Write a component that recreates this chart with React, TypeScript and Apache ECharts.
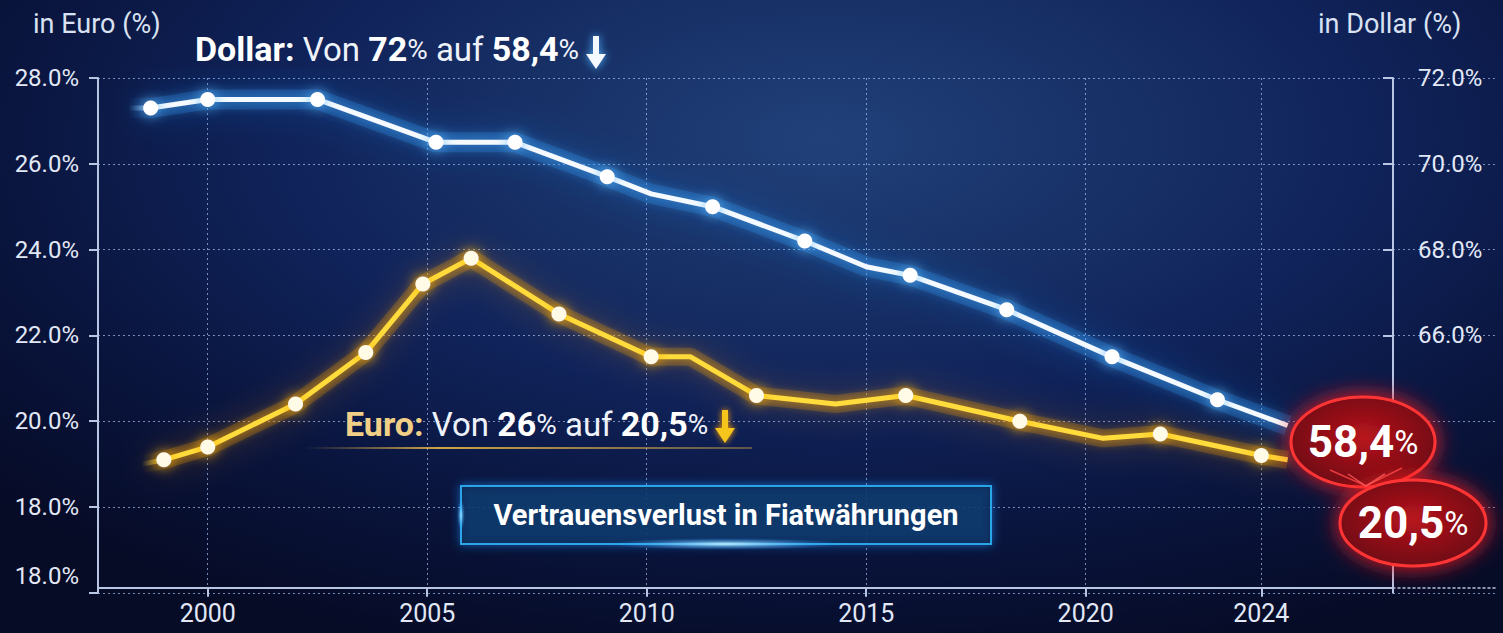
import React, { useEffect, useRef } from "react";
import * as echarts from "echarts";

// ---- data ----
const dollarYears = [1998.2, 1998.7, 2000.0, 2002.5, 2005.2, 2007.0, 2009.1, 2010.1, 2011.5, 2013.6, 2015.0, 2016.0, 2018.2, 2020.6, 2023.0, 2024.6];
const dollarShare = [71.3, 71.3, 71.5, 71.5, 70.5, 70.5, 69.7, 69.3, 69.0, 68.2, 67.6, 67.4, 66.6, 65.5, 64.5, 63.9];
const dollarMarked = [false, true, true, true, true, true, true, false, true, true, false, true, true, true, true, false];

const euroYears = [1998.5, 1999.0, 2000.0, 2002.0, 2003.6, 2004.9, 2006.0, 2008.0, 2010.1, 2011.0, 2012.5, 2014.3, 2015.9, 2018.5, 2020.4, 2021.7, 2024.0, 2024.6];
const euroShare = [19.0, 19.1, 19.4, 20.4, 21.6, 23.2, 23.8, 22.5, 21.5, 21.5, 20.6, 20.4, 20.6, 20.0, 19.6, 19.7, 19.2, 19.1];
const euroMarked = [false, true, true, true, true, true, true, true, true, false, true, false, true, true, false, true, true, false];

const xTickValues = [2000, 2005, 2010, 2015, 2020, 2024];
const leftTicks = [16, 18, 20, 22, 24, 26, 28];
const leftTickLabels = ["18.0%", "18.0%", "20.0%", "22.0%", "24.0%", "26.0%", "28.0%"];
const rightTicks = [66, 68, 70, 72];
const rightTickLabels = ["66.0%", "68.0%", "70.0%", "72.0%"];

const dollarTitle = "{b|Dollar:}{r| Von }{b|72}{p|%}{r| auf }{b|58,4}{p|%}";
const euroTitle = "{e|Euro:}{r| Von }{b|26}{p|%}{r| auf }{b|20,5}{p|%}";
const boxTitle = "Vertrauensverlust in Fiatwährungen";
const dollarBadge = "{b|58,4}{p|%}";
const euroBadge = "{b|20,5}{p|%}";

const FONT = "Roboto, 'Noto Sans', 'DejaVu Sans', sans-serif";
const AXIS = "#b8c5e3";
const LABEL = "#e2e8f6";
const DOTS = { color: "rgba(165,192,240,0.7)", width: 1, type: [2, 3] as number[] };

function points(years: number[], vals: number[], marks: boolean[] | null) {
  return years.map((x, i) => ({
    value: [x, vals[i]],
    symbol: marks && marks[i] ? "circle" : "none",
  }));
}

function fade(color: string, clear: string) {
  return new echarts.graphic.LinearGradient(0, 0, 1, 0, [
    { offset: 0, color: clear },
    { offset: 0.025, color },
    { offset: 1, color },
  ]);
}

export default function App() {
  const ref = useRef<HTMLDivElement>(null);

  useEffect(() => {
    document.body.style.margin = "0";
    if (!ref.current) return;
    const chart = echarts.init(ref.current, null, { renderer: "svg" });

    const richTitle = {
      b: { fontSize: 34, fontWeight: "bold", fill: "#ffffff", fontFamily: FONT },
      e: { fontSize: 34, fontWeight: "bold", fill: "#f2cf86", fontFamily: FONT },
      r: { fontSize: 33, fill: "#eef2fa", fontFamily: FONT },
      p: { fontSize: 28, fill: "#eef2fa", fontFamily: FONT },
    };
    const richBadge = {
      b: { fontSize: 44, fontWeight: "bold", fill: "#ffffff", fontFamily: FONT },
      p: { fontSize: 33, fill: "#ffffff", fontFamily: FONT },
    };
    const badgeFill = () =>
      new echarts.graphic.RadialGradient(0.5, 0.45, 0.6, [
        { offset: 0, color: "#b8151e" },
        { offset: 1, color: "#6a0710" },
      ]);

    const option: any = {
      animation: false,
      backgroundColor: "transparent",
      grid: [
        { left: 98, top: 78, width: 1295, height: 514.8 },
        { left: 1393, top: 78, width: 102, height: 514.8 },
      ],
      xAxis: [
        {
          type: "value",
          gridIndex: 0,
          min: 1997.5,
          max: 2027,
          interval: 2.5,
          offset: -5,
          axisLine: { show: true, onZero: false, lineStyle: { color: AXIS, width: 2 } },
          axisTick: { show: true, customValues: xTickValues, length: 9, lineStyle: { color: AXIS, width: 2 } },
          axisLabel: {
            customValues: xTickValues,
            formatter: (v: number) => String(Math.round(v)),
            color: LABEL,
            fontSize: 25,
            fontFamily: FONT,
            margin: 13,
          },
          splitLine: { show: true, lineStyle: DOTS },
        },
        {
          type: "value",
          gridIndex: 1,
          min: 0,
          max: 1,
          offset: -5,
          axisLine: { show: true, onZero: false, lineStyle: { color: AXIS, width: 1.5, type: [2, 3] } },
          axisTick: { show: false },
          axisLabel: { show: false },
          splitLine: { show: false },
        },
      ],
      yAxis: [
        {
          type: "value",
          gridIndex: 0,
          position: "left",
          min: 16,
          max: 28,
          interval: 2,
          axisLine: { show: true, onZero: false, lineStyle: { color: AXIS, width: 2 } },
          axisTick: { show: true, length: 9, lineStyle: { color: AXIS, width: 2 } },
          axisLabel: {
            formatter: (v: number) => {
              const i = leftTicks.indexOf(Math.round(v));
              if (i < 0) return "";
              return i === 0 ? "{low|" + leftTickLabels[i] + "}" : leftTickLabels[i];
            },
            rich: { low: { fontSize: 24, fontFamily: FONT, color: LABEL, padding: [0, 0, 34, 0] } },
            color: LABEL,
            fontSize: 24,
            fontFamily: FONT,
            margin: 19,
          },
          splitLine: { show: true, lineStyle: DOTS },
        },
        {
          type: "value",
          gridIndex: 0,
          position: "right",
          min: 60,
          max: 72,
          interval: 2,
          axisLine: { show: true, onZero: false, lineStyle: { color: AXIS, width: 2 } },
          axisTick: { show: true, inside: true, customValues: rightTicks, length: 10, lineStyle: { color: AXIS, width: 2 } },
          axisLabel: {
            customValues: rightTicks,
            formatter: (v: number) => {
              const i = rightTicks.indexOf(Math.round(v));
              return i >= 0 ? rightTickLabels[i] : "";
            },
            color: LABEL,
            fontSize: 24,
            fontFamily: FONT,
            margin: 25,
          },
          splitLine: { show: false },
        },
        {
          type: "value",
          gridIndex: 1,
          min: 16,
          max: 28,
          interval: 2,
          axisLine: { show: false },
          axisTick: { show: false },
          axisLabel: { show: false },
          splitLine: { show: true, lineStyle: DOTS },
        },
      ],
      series: [
        {
          name: "Euro glow",
          type: "line",
          xAxisIndex: 0,
          yAxisIndex: 0,
          silent: true,
          symbol: "none",
          data: points(euroYears, euroShare, null),
          lineStyle: {
            width: 18,
            color: fade("rgba(255,160,20,0.2)", "rgba(255,160,20,0)"),
            shadowBlur: 32,
            shadowColor: "rgba(255,140,0,1)",
          },
          z: 2,
        },
        {
          name: "Euro",
          type: "line",
          xAxisIndex: 0,
          yAxisIndex: 0,
          symbolSize: 15,
          data: points(euroYears, euroShare, euroMarked),
          lineStyle: {
            width: 5,
            color: fade("#ffdb3a", "rgba(255,217,58,0)"),
            shadowBlur: 12,
            shadowColor: "rgba(255,170,0,1)",
          },
          itemStyle: { color: "#fffbe6", borderWidth: 0, shadowBlur: 14, shadowColor: "#ffb300" },
          z: 3,
        },
        {
          name: "Dollar glow",
          type: "line",
          xAxisIndex: 0,
          yAxisIndex: 1,
          silent: true,
          symbol: "none",
          data: points(dollarYears, dollarShare, null),
          lineStyle: {
            width: 20,
            color: fade("rgba(40,150,255,0.22)", "rgba(40,150,255,0)"),
            shadowBlur: 34,
            shadowColor: "rgba(30,140,255,1)",
          },
          z: 2,
        },
        {
          name: "Dollar",
          type: "line",
          xAxisIndex: 0,
          yAxisIndex: 1,
          symbolSize: 15,
          data: points(dollarYears, dollarShare, dollarMarked),
          lineStyle: {
            width: 5,
            color: fade("#f4faff", "rgba(120,200,255,0)"),
            shadowBlur: 14,
            shadowColor: "rgba(80,180,255,1)",
          },
          itemStyle: { color: "#ffffff", borderWidth: 0, shadowBlur: 14, shadowColor: "#5cb8ff" },
          z: 3,
        },
      ],
      graphic: [
        { type: "text", x: 33, y: 24, z: 50, style: { text: "in Euro (%)", fontSize: 27, fill: "#d9e2f3", fontFamily: FONT, verticalAlign: "middle" } },
        { type: "text", x: 1318, y: 24, z: 50, style: { text: "in Dollar (%)", fontSize: 27, fill: "#d9e2f3", fontFamily: FONT, verticalAlign: "middle" } },
        {
          type: "text", x: 195, y: 49, z: 50,
          style: { text: dollarTitle, rich: richTitle, verticalAlign: "middle", align: "left" },
        },
        {
          type: "polygon", z: 50,
          shape: { points: [[593, 36], [599, 36], [599, 54], [606, 54], [596, 69], [586, 54], [593, 54]] },
          style: { fill: "#f4f9ff", shadowBlur: 8, shadowColor: "#4fb0ff" },
        },
        {
          type: "line", z: 40,
          shape: { x1: 305, y1: 448, x2: 752, y2: 448 },
          style: {
            stroke: new echarts.graphic.LinearGradient(305, 0, 752, 0, [
              { offset: 0, color: "rgba(240,190,70,0)" },
              { offset: 0.3, color: "rgba(240,190,70,0.85)" },
              { offset: 1, color: "rgba(240,190,70,0.35)" },
            ], true),
            lineWidth: 2,
          },
        },
        {
          type: "text", x: 345, y: 424, z: 50,
          style: { text: euroTitle, rich: richTitle, verticalAlign: "middle", align: "left" },
        },
        {
          type: "polygon", z: 50,
          shape: { points: [[722, 410], [728, 410], [728, 428], [735, 428], [725, 443], [715, 428], [722, 428]] },
          style: { fill: "#f6c51e", shadowBlur: 6, shadowColor: "#ff9f00" },
        },
        {
          type: "rect", z: 40,
          shape: { x: 461, y: 486, width: 530, height: 58 },
          style: { fill: "rgba(7,16,44,0.78)", stroke: "#2aa6e8", lineWidth: 2, shadowBlur: 10, shadowColor: "rgba(30,144,255,0.7)" },
        },
        {
          type: "ellipse", z: 41,
          shape: { cx: 726, cy: 544, rx: 120, ry: 6 },
          style: {
            fill: new echarts.graphic.RadialGradient(0.5, 0.5, 0.5, [
              { offset: 0, color: "rgba(190,240,255,1)" },
              { offset: 1, color: "rgba(30,150,255,0)" },
            ]),
          },
        },
        {
          type: "ellipse", z: 41,
          shape: { cx: 461, cy: 515, rx: 4, ry: 16 },
          style: {
            fill: new echarts.graphic.RadialGradient(0.5, 0.5, 0.5, [
              { offset: 0, color: "rgba(160,230,255,0.9)" },
              { offset: 1, color: "rgba(30,150,255,0)" },
            ]),
          },
        },
        {
          type: "text", x: 726, y: 515, z: 50,
          style: { text: boxTitle, fontSize: 29, fontWeight: "bold", fill: "#ffffff", fontFamily: FONT, align: "center", verticalAlign: "middle" },
        },
        {
          type: "ellipse", z: 60,
          shape: { cx: 1363, cy: 442, rx: 72, ry: 45 },
          style: { fill: badgeFill(), stroke: "#ff3636", lineWidth: 3, shadowBlur: 22, shadowColor: "rgba(255,30,30,0.95)" },
        },
        {
          type: "ellipse", z: 61,
          shape: { cx: 1413, cy: 523, rx: 73, ry: 43 },
          style: { fill: badgeFill(), stroke: "#ff3636", lineWidth: 3, shadowBlur: 22, shadowColor: "rgba(255,30,30,0.95)" },
        },
        {
          type: "polyline", z: 62,
          shape: { points: [[1330, 470], [1366, 486], [1402, 468]] },
          style: { stroke: "rgba(255,70,70,0.8)", lineWidth: 1.5, fill: null },
        },
        {
          type: "polyline", z: 62,
          shape: { points: [[1348, 474], [1366, 486], [1385, 474]] },
          style: { stroke: "rgba(255,90,90,0.8)", lineWidth: 1.5, fill: null },
        },
        {
          type: "text", x: 1363, y: 442, z: 70,
          style: { text: dollarBadge, rich: richBadge, align: "center", verticalAlign: "middle" },
        },
        {
          type: "text", x: 1413, y: 523, z: 70,
          style: { text: euroBadge, rich: richBadge, align: "center", verticalAlign: "middle" },
        },
      ],
    };

    chart.setOption(option);
    return () => chart.dispose();
  }, []);

  return (
    <div
      ref={ref}
      style={{
        position: "absolute",
        left: 0,
        top: 0,
        width: 1503,
        height: 633,
        background:
          "radial-gradient(ellipse 75% 85% at 55% 22%, #21407a 0%, #183268 25%, #10235a 48%, #0a1640 72%, #060b26 100%)",
      }}
    />
  );
}
